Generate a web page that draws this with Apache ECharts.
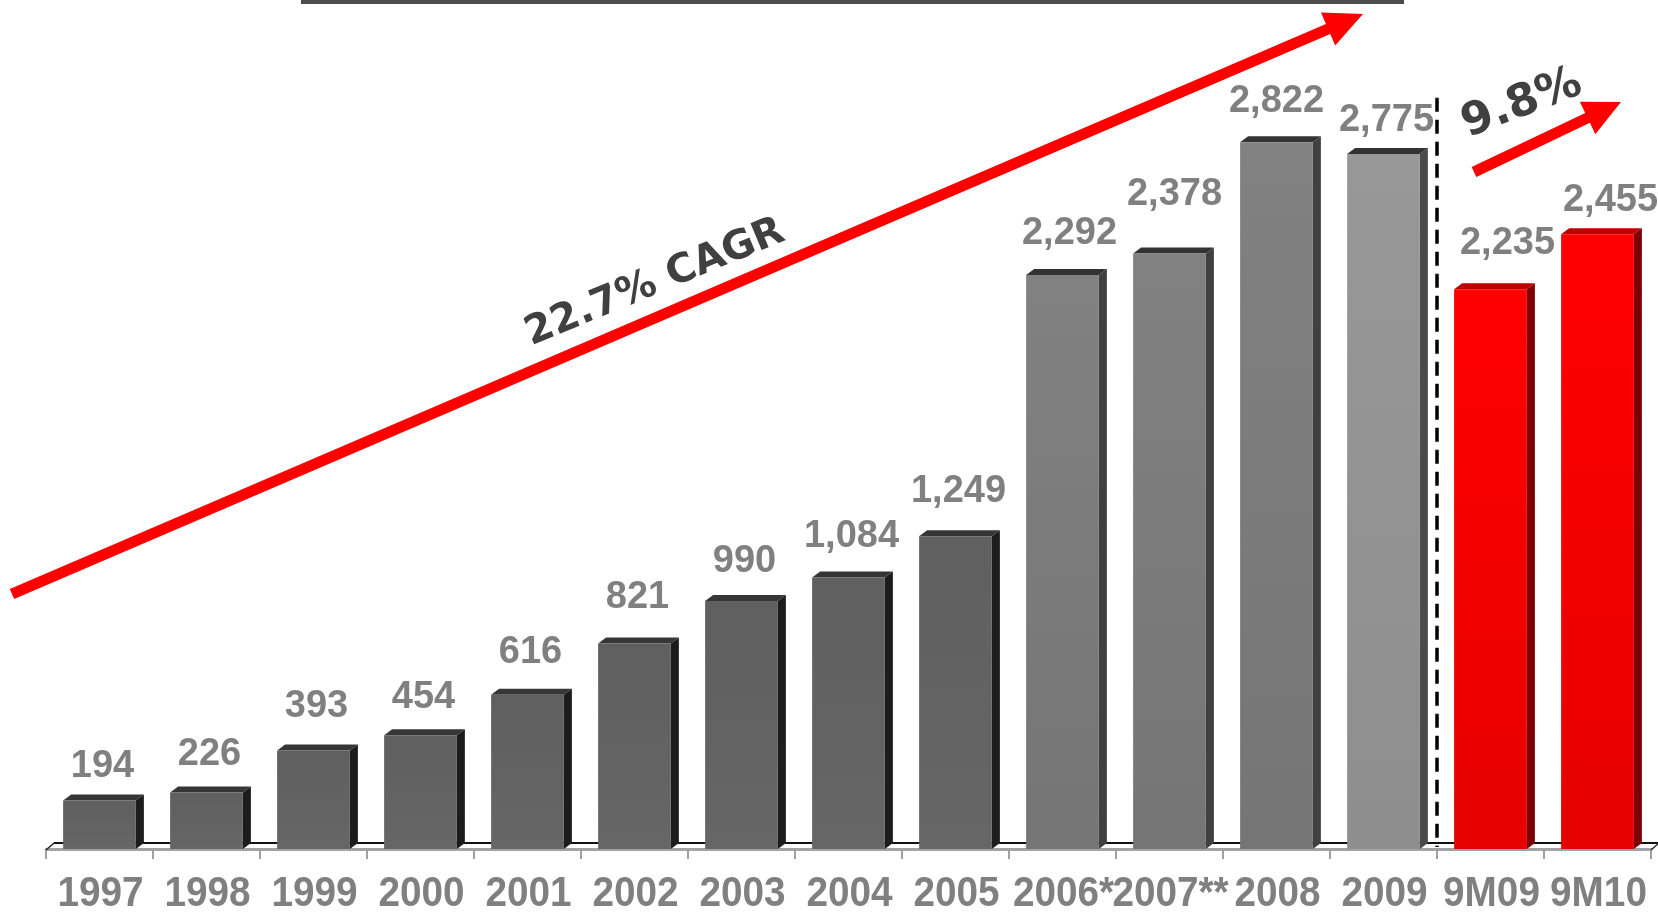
<!DOCTYPE html>
<html><head><meta charset="utf-8">
<script src="https://cdn.jsdelivr.net/npm/echarts@6/dist/echarts.min.js"></script>
<style>html,body{margin:0;padding:0;background:#fff}#c{width:1658px;height:912px}</style>
</head><body><div id="c"></div>
<script>
// ---- data ----
const categories = ['1997','1998','1999','2000','2001','2002','2003','2004','2005','2006*','2007**','2008','2009','9M09','9M10'];
const values = [194,226,393,454,616,821,990,1084,1249,2292,2378,2822,2775,2235,2455];
const cagrText = '22.7% CAGR';
const growthText = '9.8%';
const dividerAfter = 12;      // dashed divider after '2009'
const dividerTop = 3000;      // value height of divider top

// ---- styles ----
const barGroup = [0,0,0,0,0,0,0,0,0,1,1,1,2,3,3];
const palette = [
  {front:['#5f5f5f','#666666'], side:'#1c1c1c', top:'#363636'},
  {front:['#818181','#757575'], side:'#404040', top:'#333333'},
  {front:['#989898','#8e8e8e'], side:'#4a4a4a', top:'#333333'},
  {front:['#ff0000','#e60000'], side:'#7c0000', top:'#c00000'}
];
const labelLift = [-7,-3,3,-3,1,5,-1,0,4,0,18,0,-7,5,-7];
const labelShift = [0,0,0,0,0,0,0,0,0,4,2,-3,0,14,10];

const fmt = v => v.toLocaleString('en-US');

function renderBar(params, api){
  const i = api.value(0), v = api.value(1);
  const top = api.coord([i, v]), base = api.coord([i, 0]);
  const band = api.size([1, 0])[0];
  const w = band * 0.68, dx = 8, dy = 6;
  const x0 = top[0] - w/2, x1 = top[0] + w/2, yT = top[1], yB = base[1];
  const c = palette[barGroup[i]];
  return {type:'group', children:[
    {type:'polygon', shape:{points:[[x1,yT],[x1+dx,yT-dy],[x1+dx,yB-dy],[x1,yB]]}, style:{fill:c.side}},
    {type:'polygon', shape:{points:[[x0,yT],[x0+dx,yT-dy],[x1+dx,yT-dy],[x1,yT]]}, style:{fill:c.top}},
    {type:'rect', shape:{x:x0, y:yT, width:w, height:yB-yT},
      style:{fill:new echarts.graphic.LinearGradient(0,0,0,1,[{offset:0,color:c.front[0]},{offset:1,color:c.front[1]}])}},
    {type:'text', x: top[0] + 3 + labelShift[i], y: yT - 41 - labelLift[i],
      style:{text: fmt(v), fill:'#808080', font:'bold 38px "Liberation Sans"', align:'center', verticalAlign:'middle'}},
    {type:'text', x: top[0] + 1, y: yB + 45, scaleX: 0.9,
      style:{text: categories[i], fill:'#808080', font:'bold 43px "Liberation Sans"', align:'center', verticalAlign:'middle'}}
  ]};
}

function renderFloor(params, api){
  const band = api.size([1, 0])[0];
  const first = api.coord([0, 0]), last = api.coord([categories.length-1, 0]);
  const L = first[0] - band/2, R = last[0] + band/2, y = first[1];
  const dvx = api.coord([dividerAfter, 0])[0] + band/2;
  const dvTop = api.coord([dividerAfter, dividerTop])[1];
  return {type:'group', children:[
    {type:'line', shape:{x1:L+8, y1:y-6, x2:R+8, y2:y-6}, style:{stroke:'#111', lineWidth:2}},
    {type:'line', shape:{x1:L, y1:y+1, x2:L+8, y2:y-6}, style:{stroke:'#222', lineWidth:1.5}},
    {type:'line', shape:{x1:R, y1:y+1, x2:R+8, y2:y-6}, style:{stroke:'#222', lineWidth:1.5}},
    {type:'line', z2:50, shape:{x1:dvx, y1:dvTop, x2:dvx, y2:y-2}, style:{stroke:'#000', lineWidth:3.5, lineDash:[14,8]}}
  ]};
}

function arrowPoints(sx,sy,tx,ty,sw,hl,hw){
  const dx=tx-sx, dy=ty-sy, len=Math.hypot(dx,dy), ux=dx/len, uy=dy/len, px=-uy, py=ux;
  const bx=tx-ux*hl, by=ty-uy*hl;
  return [[sx+px*sw/2, sy+py*sw/2],[bx+px*sw/2,by+py*sw/2],[bx+px*hw/2,by+py*hw/2],[tx,ty],
          [bx-px*hw/2,by-py*hw/2],[bx-px*sw/2,by-py*sw/2],[sx-px*sw/2,sy-py*sw/2]];
}

const chart = echarts.init(document.getElementById('c'), null, {renderer:'canvas'});
chart.setOption({
  backgroundColor:'#ffffff',
  animation:false,
  grid:{left:46, right:7, top:0, bottom:63},
  xAxis:{
    type:'category', data:categories, boundaryGap:true,
    axisLine:{show:true, lineStyle:{color:'#a3a3a3', width:3}},
    axisTick:{show:true, length:10, lineStyle:{color:'#a0a0a0', width:2}},
    axisLabel:{show:false}
  },
  yAxis:{type:'value', min:0, max:3390, show:false, splitLine:{show:false}},
  series:[
    {type:'custom', renderItem:renderFloor, data:[[0,0]], z:1, silent:true, clip:false},
    {type:'custom', renderItem:renderBar, data:values.map((v,i)=>[i,v]), z:3, clip:false,
      encode:{x:0, y:1}}
  ],
  graphic:[
    {type:'rect', shape:{x:301, y:0, width:1103, height:4}, style:{fill:'#4d4d4d'}, z:10},
    {type:'polygon', shape:{points:arrowPoints(12,594,1363,14,11,38,36)}, style:{fill:'#ff0000'}, z:10},
    {type:'polygon', shape:{points:arrowPoints(1474,172,1621,102,11,37,36)}, style:{fill:'#ff0000'}, z:10},
    {type:'text', x:655, y:283, rotation:22.5*Math.PI/180, z:11,
      style:{text:cagrText, font:'bold 40px "DejaVu Sans"', fill:'#404040', align:'center', verticalAlign:'middle'}},
    {type:'text', x:1522, y:104, rotation:21*Math.PI/180, z:11,
      style:{text:growthText, font:'bold 45px "DejaVu Sans"', fill:'#404040', align:'center', verticalAlign:'middle'}}
  ]
});
</script></body></html>
